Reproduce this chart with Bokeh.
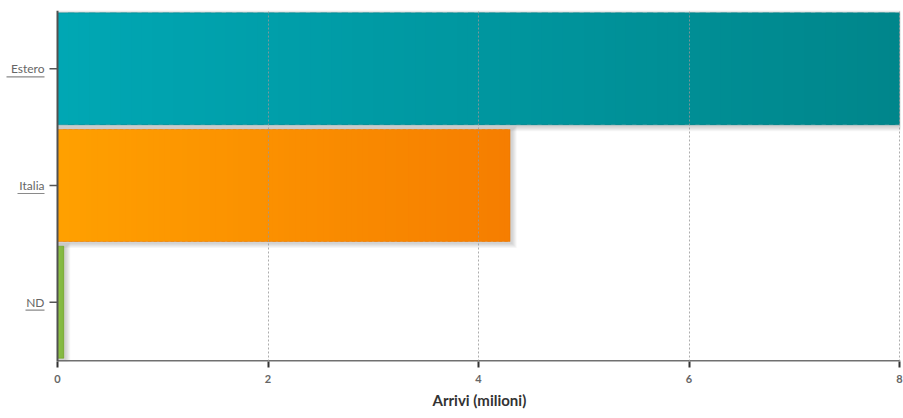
import numpy as np
from bokeh.plotting import figure
from bokeh.models import Range1d, FixedTicker, Title
from bokeh.core.properties import value
from bokeh.embed import file_html
from bokeh.resources import INLINE

# Arrivals by origin (millions)
categories = ["Estero", "Italia", "ND"]
arrivals = [8.0, 4.3, 0.06]
x_ticks = [0, 2, 4, 6, 8]
x_title = "Arrivi (milioni)"

# Bar colours: light start / darker end of the horizontal gradient
start_colors = ["#00a7b4", "#ffa000", "#84c22e"]
end_colors = ["#00868b", "#f67e00", "#74b026"]
edge_colors = ["#007a80", "#e67300", "#6aa020"]

W, H = 903, 418
BORDER_T, BORDER_B, BORDER_R = 10, 57, 3
AXIS_X = 57            # pixel position of the value axis origin
X_MAX = 8.0
n_cat = len(categories)

frame_w = W - BORDER_R
frame_h = H - BORDER_T - BORDER_B
px_x = X_MAX / (frame_w - AXIS_X - 1)
px_y = n_cat / (frame_h - 1)

# the frame spans the whole width so the category column lives inside it
p = figure(width=W, height=H,
           x_range=Range1d(-AXIS_X * px_x, X_MAX + px_x),
           y_range=Range1d(-px_y, n_cat),
           output_backend="svg", toolbar_location=None, y_axis_location=None,
           min_border_left=0, min_border_right=BORDER_R,
           min_border_top=BORDER_T, min_border_bottom=BORDER_B)
p.outline_line_color = None

y_pos = [n_cat - i - 0.5 for i in range(n_cat)]
bar_h = 0.96


def hex_to_rgb(h):
    return np.array([int(h[i:i + 2], 16) for i in (1, 3, 5)], dtype=float)


def rgb_to_hex(c):
    return "#%02x%02x%02x" % tuple(int(round(v)) for v in c)


# soft drop shadow, offset down-right
for k in range(1, 6):
    p.quad(left=[0] * n_cat,
           right=[v + (1.5 + k) * px_x for v in arrivals],
           top=[y + bar_h / 2 + (k - 1.5) * px_y for y in y_pos],
           bottom=[y - bar_h / 2 - (1.5 + k) * px_y for y in y_pos],
           fill_color="black", fill_alpha=0.035, line_color=None)

# gradient-filled bars built from thin vertical strips
N = 80
for val, y, c0, c1 in zip(arrivals, y_pos, start_colors, end_colors):
    a0, a1 = hex_to_rgb(c0), hex_to_rgb(c1)
    edges = np.linspace(0, val, N + 1)
    cols = [rgb_to_hex(a0 + (a1 - a0) * t) for t in np.linspace(0, 1, N)]
    p.quad(left=edges[:-1], right=np.minimum(edges[1:] + val / N * 0.6, val),
           top=[y + bar_h / 2] * N, bottom=[y - bar_h / 2] * N,
           fill_color=cols, line_color=None)

# thin darker rim on each bar
p.quad(left=[0] * n_cat, right=arrivals,
       top=[y + bar_h / 2 for y in y_pos], bottom=[y - bar_h / 2 for y in y_pos],
       fill_color=None, line_color=edge_colors, line_alpha=0.45, line_width=1)

# dotted grid above the bars
p.ygrid.grid_line_color = None
p.xgrid.ticker = FixedTicker(ticks=[t for t in x_ticks if t > 0])
p.xgrid.grid_line_color = "#999999"
p.xgrid.grid_line_alpha = 0.8
p.xgrid.grid_line_dash = "2 2"
p.xgrid.grid_line_width = 1
p.xgrid.level = "annotation"

# value axis: ticks and labels from bokeh, base line drawn from origin to max
xa = p.xaxis[0]
xa.ticker = FixedTicker(ticks=x_ticks)
xa.major_label_text_font = "Lato"
xa.major_label_text_font_style = "bold"
xa.major_label_text_font_size = "11px"
xa.major_label_text_color = "#666666"
xa.major_label_standoff = 7
xa.axis_line_color = None
xa.major_tick_line_color = "#333333"
xa.major_tick_line_width = 2
xa.major_tick_out = 6
xa.major_tick_in = 0
xa.minor_tick_line_color = None

p.segment(x0=[0], x1=[X_MAX + px_x], y0=[-0.5 * px_y], y1=[-0.5 * px_y],
          line_color="#707070", line_width=2)

# axis title, centred under the value range (origin .. max)
title_px = 93
axis_mid_px = AXIS_X + (frame_w - AXIS_X) / 2
p.add_layout(Title(text=x_title, align="left", offset=axis_mid_px - title_px / 2,
                   text_font="Lato", text_font_style="bold", text_font_size="15px",
                   text_color="#333333", standoff=6), "below")

# category axis: line, ticks and underlined names
p.segment(x0=[0], x1=[0], y0=[-px_y], y1=[n_cat],
          line_color="#505050", line_width=2)
p.segment(x0=[-8 * px_x] * n_cat, x1=[0] * n_cat, y0=y_pos, y1=y_pos,
          line_color="#555555", line_width=1.5)

name_right = -13 * px_x
name_px = [38, 27, 19]
p.text(x=[name_right] * n_cat, y=y_pos, text=categories,
       text_font=value("Lato"), text_font_size="12px", text_color="#666666",
       text_align="right", text_baseline="middle")
p.segment(x0=[name_right - w * px_x for w in name_px], x1=[name_right] * n_cat,
          y0=[y - 8 * px_y for y in y_pos], y1=[y - 8 * px_y for y in y_pos],
          line_color="#8a8a8a", line_width=1.2)

open("out.html", "w").write(file_html(p, INLINE))
